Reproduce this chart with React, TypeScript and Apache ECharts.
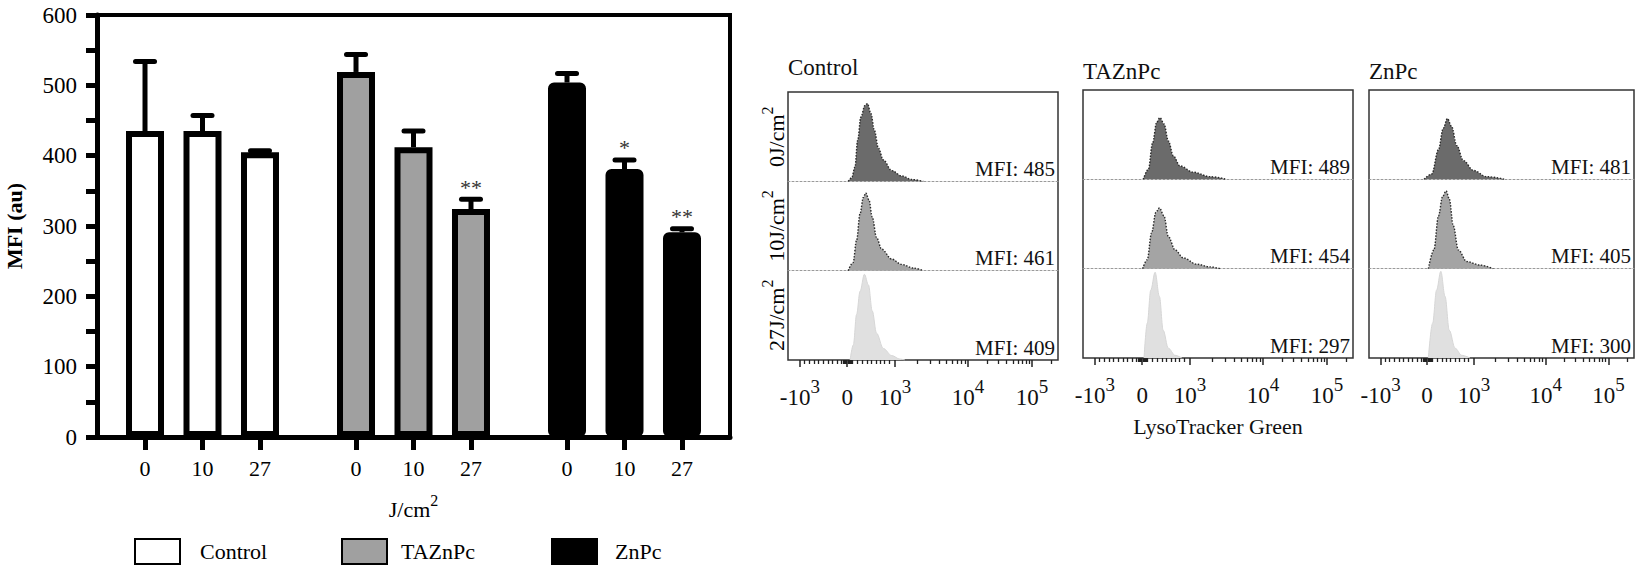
import React, { useEffect, useRef } from 'react';
import * as echarts from 'echarts';

// ---------------- Data: bar chart ----------------
const groupNames = ['Control', 'TAZnPc', 'ZnPc'];
const doseLabels = ['0', '10', '27'];
const controlMean = [435, 435, 405];
const controlUpper = [534, 457, 407];
const taznpcMean = [519, 412, 324];
const taznpcUpper = [544, 435, 338];
const znpcMean = [504, 381, 291];
const znpcUpper = [517, 394, 296];
const significance = ['', '', '', '', '', '**', '', '*', '**'];
const yTickStep = 50;

// ---------------- Data: flow cytometry histograms ----------------
// x in display channel units (0..1000 across the panel), y in % of row height
const ctrl0J = [[223, 0], [236, 4], [248, 16], [258, 46], [270, 72], [285, 85], [294, 87], [307, 76], [320, 57], [335, 37], [353, 24], [384, 12], [421, 6], [458, 2], [501, 0]];
const ctrl10J = [[223, 0], [241, 9], [254, 34], [267, 64], [279, 82], [288, 87], [300, 79], [312, 60], [328, 37], [347, 24], [384, 13], [421, 7], [464, 3], [501, 0]];
const ctrl27J = [[230, 0], [242, 17], [254, 51], [267, 77], [283, 96], [298, 84], [312, 55], [328, 30], [353, 13], [384, 5], [415, 1], [433, 0]];
const taz0J = [[223, 0], [242, 11], [258, 41], [273, 64], [285, 69], [300, 62], [316, 43], [335, 26], [359, 15], [409, 8], [470, 3], [532, 0]];
const taz10J = [[221, 0], [238, 10], [254, 40], [270, 63], [283, 68], [300, 59], [316, 36], [341, 21], [372, 12], [421, 5], [470, 2], [507, 0]];
const taz27J = [[226, 0], [238, 39], [251, 76], [267, 96], [283, 69], [297, 31], [316, 11], [341, 3], [366, 0]];
const znpc0J = [[208, 0], [237, 6], [262, 33], [280, 57], [296, 68], [312, 59], [331, 38], [356, 21], [394, 10], [444, 3], [513, 0]];
const znpc10J = [[224, 0], [245, 21], [262, 59], [278, 81], [291, 87], [303, 78], [318, 48], [337, 21], [369, 8], [419, 4], [469, 0]];
const znpc27J = [[224, 0], [240, 39], [255, 76], [271, 97], [287, 69], [303, 31], [325, 11], [350, 3], [381, 0]];
const histograms = [
  [ctrl0J, ctrl10J, ctrl27J],
  [taz0J, taz10J, taz27J],
  [znpc0J, znpc10J, znpc27J],
];
const mfiValues = [
  [485, 461, 409],
  [489, 454, 297],
  [481, 405, 300],
];
const rowLabels = [['0J/cm', '2'], ['10J/cm', '2'], ['27J/cm', '2']];
const flowMajorTicks = [44, 219, 396, 667, 904];
const flowMajorLabels = [['-10', '3'], ['0', ''], ['10', '3'], ['10', '4'], ['10', '5']];
const flowMinorTicks = [
  61, 78, 96, 113, 130, 148, 165, 182, 199, 203, 207, 211, 215, 223, 227, 231, 235, 239,
  258, 275, 292, 308, 325, 342, 358, 375,
  478, 525, 559, 585, 607, 625, 641, 655,
  738, 780, 810, 833, 851, 867, 881, 893, 975,
];

// ---------------- Layout / style ----------------
const SERIF = 'Liberation Serif, Times New Roman, serif';
const GROUP_STRIDE = 3.67;
const BAR = { left: 97, top: 15, width: 633, height: 422 };
const X_MIN = -0.835;
const X_MAX = 2 * GROUP_STRIDE + 2 + 0.835;
const PANELS = [
  { left: 788, top: 92, width: 270, title: 'Control', titleTop: 56 },
  { left: 1083, top: 90, width: 270, title: 'TAZnPc', titleTop: 60 },
  { left: 1369, top: 90, width: 265, title: 'ZnPc', titleTop: 60 },
];
const PANEL_H = 268;
const ROW_H = PANEL_H / 3;
const barFills = ['#ffffff', '#a0a0a0', '#000000'];
const histFills = ['#6b6b6b', '#a4a4a4', '#e0e0e0'];
const legendLefts = [134, 341, 551];
const legendTextPad = [15, 9, 13];

const means = [controlMean, taznpcMean, znpcMean];
const uppers = [controlUpper, taznpcUpper, znpcUpper];
const barPositions: number[] = [];
groupNames.forEach((_, g) => doseLabels.forEach((__, i) => barPositions.push(g * GROUP_STRIDE + i)));

const supRich = {
  b: { fontSize: 22, lineHeight: 22, padding: [6, 0, 0, 0], fontFamily: SERIF, color: '#000' },
  s: { fontSize: 16, lineHeight: 16, padding: [0, 0, 12, 0], fontFamily: SERIF, color: '#000' },
};
const tickRich = {
  b: { fontSize: 23, lineHeight: 23, padding: [9, 0, 0, 0], fontFamily: SERIF, color: '#111' },
  s: { fontSize: 19, lineHeight: 19, padding: [0, 0, 13, 0], fontFamily: SERIF, color: '#111' },
};

function buildOption() {
  const grids: any[] = [{ ...BAR, show: true, borderColor: '#000', borderWidth: 4 }];
  const xAxes: any[] = [];
  const yAxes: any[] = [];
  const series: any[] = [];
  const titles: any[] = [];
  const graphics: any[] = [];

  xAxes.push({
    type: 'value', gridIndex: 0, min: X_MIN, max: X_MAX,
    axisLine: { show: true, onZero: false, lineStyle: { color: '#000', width: 5 } },
    axisTick: { show: true, customValues: barPositions, length: 13, lineStyle: { color: '#000', width: 5 } },
    axisLabel: {
      customValues: barPositions, margin: 20, fontSize: 22, fontFamily: SERIF, color: '#000',
      formatter: (v: number) => {
        const k = barPositions.findIndex((p) => Math.abs(p - v) < 1e-6);
        return k >= 0 ? doseLabels[k % 3] : '';
      },
    },
    splitLine: { show: false },
    name: '{b|J/cm}{s|2}', nameLocation: 'middle', nameGap: 58,
    nameTextStyle: { rich: supRich, fontFamily: SERIF },
  });
  yAxes.push({
    type: 'value', gridIndex: 0, min: 0, max: 600, interval: yTickStep,
    axisLine: { show: true, onZero: false, lineStyle: { color: '#000', width: 5 } },
    axisTick: { show: true, length: 11, lineStyle: { color: '#000', width: 5 } },
    axisLabel: {
      margin: 20, fontSize: 23, fontFamily: SERIF, color: '#000',
      formatter: (v: number) => (v % 100 === 0 ? String(v) : ''),
    },
    splitLine: { show: false },
    name: 'MFI (au)', nameLocation: 'middle', nameRotate: 90, nameGap: 72,
    nameTextStyle: { fontSize: 22, fontWeight: 'bold', fontFamily: SERIF, color: '#000' },
  });

  groupNames.forEach((name, g) => {
    series.push({
      type: 'bar', name, xAxisIndex: 0, yAxisIndex: 0,
      data: means[g].map((v, i) => [g * GROUP_STRIDE + i, v]),
      barWidth: 38, barGap: '-100%',
      itemStyle: { color: barFills[g], borderColor: '#000', borderWidth: 6, borderRadius: g === 2 ? 3 : 0 },
      emphasis: { disabled: true },
      silent: true,
    });
  });

  const errData: number[][] = [];
  groupNames.forEach((_, g) => doseLabels.forEach((__, i) => errData.push([g * GROUP_STRIDE + i, means[g][i], uppers[g][i]])));
  series.push({
    type: 'custom', xAxisIndex: 0, yAxisIndex: 0, data: errData, silent: true, z: 5,
    renderItem: (params: any, api: any) => {
      const x = api.value(0);
      const base = api.coord([x, api.value(1)]);
      const top = api.coord([x, api.value(2)]);
      const children: any[] = [
        { type: 'line', shape: { x1: base[0], y1: base[1], x2: top[0], y2: top[1] }, style: { stroke: '#000', lineWidth: 5 } },
        { type: 'line', shape: { x1: top[0] - 9.5, y1: top[1], x2: top[0] + 9.5, y2: top[1] }, style: { stroke: '#000', lineWidth: 5, lineCap: 'round' } },
      ];
      const s = significance[params.dataIndex];
      if (s) {
        children.push({
          type: 'text', x: top[0], y: top[1] - 1,
          style: { text: s, fontSize: 22, fontFamily: SERIF, fill: '#333', align: 'center', verticalAlign: 'bottom' },
        });
      }
      return { type: 'group', children };
    },
  });

  // ---------- flow panels ----------
  PANELS.forEach((P, p) => {
    const panelIdx = grids.length;
    grids.push({ left: P.left, top: P.top, width: P.width, height: PANEL_H, show: true, borderColor: '#333', borderWidth: 1.5 });
    xAxes.push({
      type: 'value', gridIndex: panelIdx, min: 0, max: 1000,
      axisLine: { show: false },
      axisTick: { show: true, customValues: flowMajorTicks, length: 7, lineStyle: { color: '#222', width: 1.5 } },
      axisLabel: {
        customValues: flowMajorTicks, margin: 21, rich: tickRich, fontFamily: SERIF,
        formatter: (v: number) => {
          const k = flowMajorTicks.indexOf(v);
          if (k < 0) return '';
          const [b, s] = flowMajorLabels[k];
          return s ? `{b|${b}}{s|${s}}` : `{b|${b}}`;
        },
      },
      splitLine: { show: false },
      name: p === 1 ? 'LysoTracker Green' : '',
      nameLocation: 'middle', nameGap: 57,
      nameTextStyle: { fontSize: 22, fontFamily: SERIF, color: '#111' },
    });
    yAxes.push({ type: 'value', gridIndex: panelIdx, min: 0, max: 1, show: false });
    titles.push({ text: P.title, left: P.left, top: P.titleTop, padding: 0, textStyle: { fontSize: 23, fontWeight: 'normal', fontFamily: SERIF, color: '#111' } });

    histograms[p].forEach((hist, r) => {
      const gi = grids.length;
      const rowTop = P.top + r * ROW_H;
      grids.push({ left: P.left, top: rowTop, width: P.width, height: ROW_H });
      xAxes.push({
        type: 'value', gridIndex: gi, min: 0, max: 1000,
        axisLine: { show: r < 2, onZero: false, lineStyle: { color: '#9a9a9a', width: 1, type: [2, 2] } },
        axisTick: r === 2
          ? { show: true, customValues: flowMinorTicks, length: 4, lineStyle: { color: '#222', width: 1.3 } }
          : { show: false },
        axisLabel: { show: false },
        splitLine: { show: false },
      });
      yAxes.push({
        type: 'value', gridIndex: gi, min: 0, max: 100,
        axisLine: { show: false, onZero: false }, axisTick: { show: false }, axisLabel: { show: false }, splitLine: { show: false },
        name: p === 0 ? `{b|${rowLabels[r][0]}}{s|${rowLabels[r][1]}}` : '',
        nameLocation: 'middle', nameRotate: 90, nameGap: 4,
        nameTextStyle: { rich: supRich, fontFamily: SERIF },
      });
      series.push({
        type: 'line', xAxisIndex: gi, yAxisIndex: gi, data: hist,
        smooth: 0.35, smoothMonotone: 'x', showSymbol: false, symbol: 'none', silent: true,
        lineStyle: r < 2 ? { color: '#2a2a2a', width: 1.4, type: [1.5, 1.5] } : { color: '#d6d6d6', width: 1 },
        areaStyle: { color: histFills[r], opacity: 1 },
        emphasis: { disabled: true },
      });
      graphics.push({
        type: 'text', x: P.left + P.width - 3, y: rowTop + ROW_H - 2, silent: true,
        style: { text: `MFI: ${mfiValues[p][r]}`, font: `21px ${SERIF}`, fontSize: 21, fontFamily: SERIF, fill: '#111', align: 'right', verticalAlign: 'bottom' },
      });
    });
  });

  const legends = groupNames.map((name, i) => ({
    data: [name], left: legendLefts[i], top: 538, padding: 0, selectedMode: false,
    itemWidth: 45, itemHeight: 25, icon: 'rect',
    textStyle: { fontSize: 22, fontFamily: SERIF, color: '#000', padding: [0, 0, 0, legendTextPad[i]] },
  }));

  return {
    animation: false,
    backgroundColor: '#fff',
    textStyle: { fontFamily: SERIF },
    title: titles,
    grid: grids,
    xAxis: xAxes,
    yAxis: yAxes,
    legend: legends,
    graphic: graphics,
    series,
  };
}

export default function App() {
  const ref = useRef<HTMLDivElement>(null);
  useEffect(() => {
    if (!ref.current) return;
    const chart = echarts.init(ref.current, null, { renderer: 'svg' });
    chart.setOption(buildOption() as any);
    return () => chart.dispose();
  }, []);
  return (
    <div
      ref={ref}
      style={{ position: 'fixed', left: 0, top: 0, width: 1640, height: 566, background: '#fff' }}
    />
  );
}
